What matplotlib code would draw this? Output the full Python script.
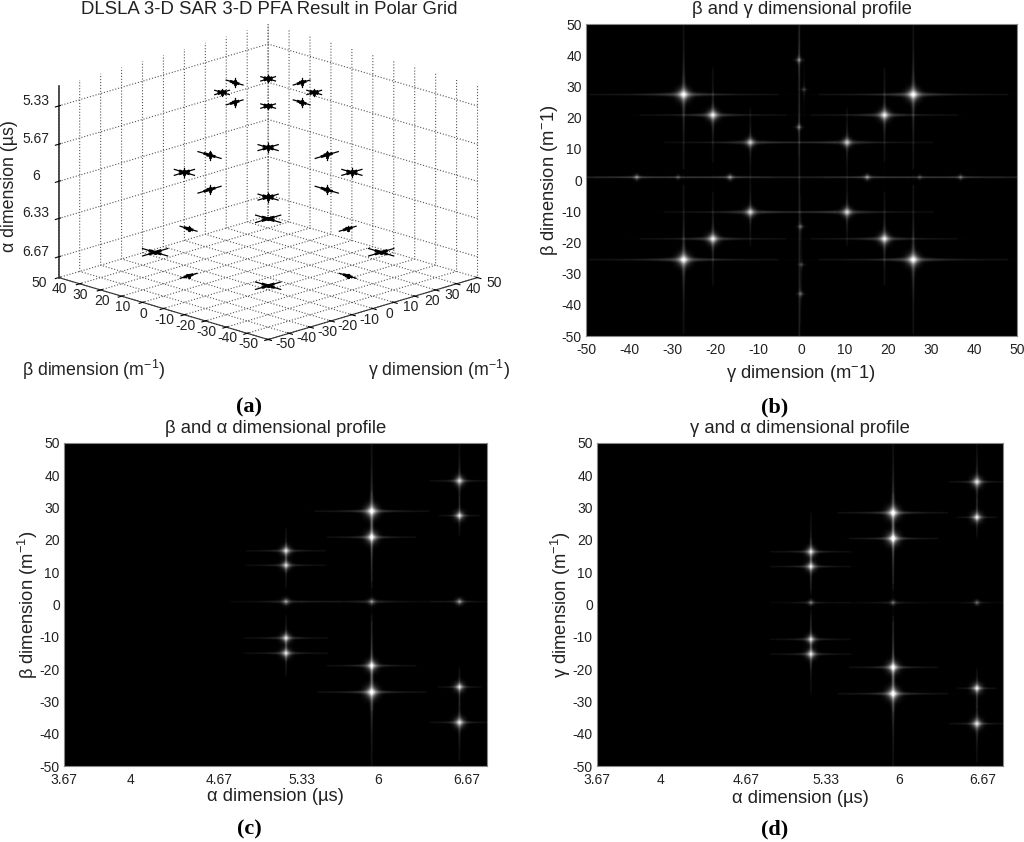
#!/usr/bin/env python3
"""Recreate the four-panel DLSLA 3-D SAR PFA result figure."""

import matplotlib
import numpy as np

matplotlib.use("Agg")
from matplotlib import pyplot as plt
from mpl_toolkits.mplot3d import proj3d

WIDTH, HEIGHT = 1024, 842

TITLE_A = "DLSLA 3-D SAR 3-D PFA Result in Polar Grid"
TITLE_B = "β and γ dimensional profile"
TITLE_C = "β and α dimensional profile"
TITLE_D = "γ and α dimensional profile"

XY_TICKS = [-50, -40, -30, -20, -10, 0, 10, 20, 30, 40, 50]
ALPHA_TICKS = [5.33, 5.67, 6.0, 6.33, 6.67]
ALPHA_LABELS = ["5.33", "5.67", "6", "6.33", "6.67"]
PROFILE_ALPHA_LABELS = ["3.67", "4", "4.67", "5.33", "6", "6.67"]
# the source labels its range axis unevenly, so this axis runs in percent of the width
PROFILE_ALPHA_TICKS = [0.0, 15.7, 36.7, 56.3, 74.3, 95.1]

# 3-D targets, eight per layer
STAR_ALPHA = [5.21] * 8 + [5.92] * 8 + [6.63] * 8
STAR_BETA = [11, 11, -11, -11, 16, -16, 0, 0,
             20, 20, -20, -20, 28, -28, 0, 0,
             27, 27, -27, -27, 38, -38, 0, 0]
STAR_GAMMA = [11, -11, 11, -11, 0, 0, 16, -16,
              20, -20, 20, -20, 0, 0, 28, -28,
              27, -27, 27, -27, 0, 0, 38, -38]
ARM_BETA = [3.5, 3.5, 3.5, 3.5, 4.0, 4.0, 1.0, 1.0,
            4.8, 4.8, 4.8, 4.8, 5.5, 5.5, 1.2, 1.2,
            6.0, 6.0, 6.0, 6.0, 4.0, 4.0, 1.0, 1.0]
ARM_GAMMA = [3.5, 3.5, 3.5, 3.5, 1.0, 1.0, 4.0, 4.0,
             4.8, 4.8, 4.8, 4.8, 1.2, 1.2, 5.5, 5.5,
             6.0, 6.0, 6.0, 6.0, 1.0, 1.0, 4.0, 4.0]
ARM_ALPHA = [0.03, 0.03, 0.03, 0.03, 0.04, 0.04, 0.04, 0.04,
             0.04, 0.04, 0.04, 0.04, 0.04, 0.04, 0.04, 0.04,
             0.01, 0.01, 0.01, 0.01, 0.02, 0.02, 0.02, 0.02]

# panel (b): gamma, beta, brightness, horizontal and vertical streak reach
B_GAMMA = [-27.4, -20.6, -11.9, 10.6, 19.3, 26.0,
           -0.6, 0.6, -0.6, -38.3, -28.7, -16.6, 15.3, 27.5, 37.0,
           -11.9, 10.6, -20.6, 19.3, -27.4, 26.0, -0.2, 0.0, -0.2]
B_BETA = [27.5, 20.9, 12.1, 12.1, 20.9, 27.5,
          38.6, 29.1, 17.0, 0.9, 0.9, 0.9, 0.9, 0.9, 0.9,
          -10.3, -10.3, -18.9, -18.9, -25.6, -25.6, -15.0, -27.2, -36.6]
B_AMP = [1.0, 0.9, 0.75, 0.75, 0.9, 1.0,
         0.45, 0.25, 0.4, 0.45, 0.25, 0.5, 0.5, 0.25, 0.35,
         0.8, 0.8, 0.9, 0.9, 1.0, 1.0, 0.35, 0.25, 0.35]
B_HLEN = [22, 17, 20, 20, 17, 22,
          1.5, 1.5, 1.5, 10, 10, 10, 10, 10, 10,
          20, 20, 17, 17, 22, 22, 1.5, 1.5, 1.5]
B_VLEN = [24, 15, 11, 11, 15, 24,
          10, 10, 10, 1.5, 1.5, 1.5, 1.5, 1.5, 1.5,
          11, 11, 15, 15, 24, 24, 10, 10, 10]

# panel (c): column position in percent of the width, beta, brightness, reach
C_COLUMN = [52.5] * 5 + [72.8] * 5 + [93.6] * 5
C_BETA = [16.7, 12.2, 0.9, -10.4, -15.1,
          29.0, 20.9, 0.9, -19.0, -27.2,
          38.4, 27.6, 0.9, -25.6, -36.6]
C_AMP = [0.8, 0.75, 0.6, 0.8, 0.8,
         1.0, 0.95, 0.55, 0.9, 1.0,
         0.8, 0.8, 0.6, 0.8, 0.85]
C_HLEN = [9.5, 9.5, 13, 10, 10,
          13.5, 10.5, 17, 10.5, 13,
          7.0, 4.8, 7, 5.0, 7.0]
C_VLEN = [7, 7, 1, 7, 7,
          24, 14, 1, 14, 24,
          12, 6, 1, 6, 12]

# panel (d)
D_COLUMN = [52.7] * 5 + [73.0] * 5 + [93.7] * 5
D_GAMMA = [16.4, 11.8, 0.6, -10.8, -15.4,
           28.5, 20.5, 0.6, -19.5, -27.7,
           38.1, 27.1, 0.6, -26.0, -37.0]
D_AMP = [0.8, 0.8, 0.45, 0.75, 0.8,
         1.0, 1.0, 0.4, 0.95, 1.0,
         0.85, 0.85, 0.4, 0.85, 0.85]
D_HLEN = [10, 10, 10, 10, 10,
          13.5, 11, 14, 11, 13.5,
          7, 5, 7, 5, 7]
D_VLEN = [12, 9, 1, 9, 12,
          24, 14, 1, 14, 24,
          12, 6, 1, 6, 12]


def _pixel_axes(figure, left, top, right, bottom, **kwargs):
    return figure.add_axes(
        [left / WIDTH, 1 - bottom / HEIGHT, (right - left) / WIDTH, (bottom - top) / HEIGHT],
        **kwargs,
    )


def _label(figure, x, y, text, **kwargs):
    figure.text(x / WIDTH, 1 - y / HEIGHT, text, ha="center", va="center", **kwargs)


def _spots(shape, xlim, ylim, xs, ys, amps, hlens, vlens, line_x=None, line_y=None):
    rows, cols = shape
    px = cols / (xlim[1] - xlim[0])
    py = rows / (ylim[1] - ylim[0])
    xx, yy = np.meshgrid(np.linspace(xlim[0], xlim[1], cols), np.linspace(ylim[0], ylim[1], rows))
    image = np.zeros(shape)
    for x, y, amp, hlen, vlen in zip(xs, ys, amps, hlens, vlens):
        du = (xx - x) * px
        dv = (yy - y) * py
        h_px = hlen * px
        v_px = vlen * py
        # soft glow with a fading streak each way, streaks narrow away from the centre
        image += 0.45 * amp * np.exp(-(du**2 + dv**2) / (2.2 + 4.2 * amp**2) ** 2)
        h_width = 0.9 + 2.2 * amp * np.exp(-np.abs(du) / (h_px * 0.2))
        v_width = 0.9 + 2.2 * amp * np.exp(-np.abs(dv) / (v_px * 0.2))
        image += 0.27 * amp * np.exp(-np.abs(du) / (h_px * 0.35)) * np.exp(-((dv / h_width) ** 2))
        image += 0.27 * amp * np.exp(-np.abs(dv) / (v_px * 0.35)) * np.exp(-((du / v_width) ** 2))
        image += 0.05 * amp * (np.abs(du) < h_px) * np.exp(-(dv**2))
        image += 0.05 * amp * (np.abs(dv) < v_px) * np.exp(-(du**2))
    if line_x is not None:
        image += 0.12 * np.exp(-(((xx - line_x) * px) ** 2))
    if line_y is not None:
        image += 0.13 * np.exp(-(((yy - line_y) * py) ** 2))
    return np.clip(image, 0, 1)


def _profile(axis, image, xlim, title, xlabel, ylabel, xpad, ypad):
    axis.imshow(
        image,
        cmap="gray",
        vmin=0,
        vmax=1,
        origin="lower",
        aspect="auto",
        interpolation="bilinear",
        extent=(xlim[0], xlim[1], -50, 50),
    )
    axis.set_yticks(XY_TICKS)
    axis.tick_params(length=0, labelsize=10, pad=3, colors="#222222")
    axis.tick_params(axis="x", pad=5)
    for spine in axis.spines.values():
        spine.set_color("#888888")
        spine.set_linewidth(0.8)
    axis.set_title(title, fontsize=13.3, color="#222222", pad=7)
    axis.set_xlabel(xlabel, fontsize=13.2, color="#222222", labelpad=xpad)
    axis.set_ylabel(ylabel, fontsize=13.2, color="#222222", labelpad=ypad)


def _tick_label(axis, gamma, beta, alpha, text, dx, dy):
    # mplot3d only offsets labels along the tick, so place them by projected tick position
    x, y, _ = proj3d.proj_transform(gamma, beta, alpha, axis.get_proj())
    axis.annotate(
        text,
        xy=(x, y),
        xytext=(dx, dy),
        textcoords="offset pixels",
        ha="center",
        va="center",
        fontsize=10,
        color="#222222",
        annotation_clip=False,
    )


def _panel_a(figure):
    plt.rcParams["grid.linestyle"] = ":"
    plt.rcParams["grid.linewidth"] = 0.8
    plt.rcParams["grid.color"] = "#555555"
    axis = _pixel_axes(figure, -2, -3, 528, 377, projection="3d", proj_type="ortho")
    axis.patch.set_alpha(0)
    axis.view_init(elev=17.2, azim=-135)
    axis.set_box_aspect((297, 297, 201), zoom=1.186)
    axis.set_xlim(-50, 50)
    axis.set_ylim(-50, 50)
    axis.set_zlim(6.855, 5.154)
    axis.set_xticks(XY_TICKS, [""] * len(XY_TICKS))
    axis.set_yticks(XY_TICKS, [""] * len(XY_TICKS))
    axis.set_zticks(ALPHA_TICKS, [""] * len(ALPHA_TICKS))
    axis.zaxis.set_ticks_position("upper")
    for part in (axis.xaxis, axis.yaxis, axis.zaxis):
        part.pane.set_visible(False)
        part.line.set_color("#333333")
    axis.zaxis.line.set_linewidth(1.2)
    for value in XY_TICKS:
        _tick_label(axis, value, -50, 6.855, str(value), 17, -5)
        _tick_label(axis, -50, value, 6.855, str(value), -20, -5)
    for value, text in zip(ALPHA_TICKS, ALPHA_LABELS):
        _tick_label(axis, -50, 50, value, text, -23, 5)
    for alpha, beta, gamma, arm_b, arm_g, arm_a in zip(
        STAR_ALPHA, STAR_BETA, STAR_GAMMA, ARM_BETA, ARM_GAMMA, ARM_ALPHA
    ):
        for scale, width in ((1.0, 0.9), (0.4, 2.0)):
            axis.plot([gamma - arm_g * scale, gamma + arm_g * scale], [beta, beta], [alpha, alpha], color="black", lw=width)
            axis.plot([gamma, gamma], [beta - arm_b * scale, beta + arm_b * scale], [alpha, alpha], color="black", lw=width)
            axis.plot([gamma, gamma], [beta, beta], [alpha - arm_a * scale, alpha + arm_a * scale], color="black", lw=width)
    return axis


def main():
    plt.rcParams["font.family"] = ["Liberation Sans", "DejaVu Sans"]
    plt.rcParams["mathtext.fontset"] = "custom"
    plt.rcParams["mathtext.rm"] = "Liberation Sans"
    plt.rcParams["mathtext.default"] = "regular"
    plt.rcParams["axes.unicode_minus"] = False
    figure = plt.figure(figsize=(WIDTH / 100, HEIGHT / 100), dpi=100, facecolor="white")

    _panel_a(figure)
    _label(figure, 269, 9, TITLE_A, fontsize=13.4, color="#222222")
    _label(figure, 94, 370, "β dimension (m$^{-1}$)", fontsize=12.8, color="#222222")
    _label(figure, 439, 370, "γ dimension (m$^{-1}$)", fontsize=12.8, color="#222222")
    _label(figure, 10, 186, "α dimension (µs)", fontsize=12.8, color="#222222", rotation=90)

    axis_b = _pixel_axes(figure, 586, 24, 1017, 336)
    image_b = _spots((312, 431), (-50, 50), (-50, 50), B_GAMMA, B_BETA, B_AMP, B_HLEN, B_VLEN, line_x=-0.5, line_y=0.9)
    _profile(axis_b, image_b, (-50, 50), TITLE_B, "γ dimension (m$^{-}$1)", "β dimension (m$^{-}$1)", 4, 1)
    axis_b.set_xticks(XY_TICKS)

    axis_c = _pixel_axes(figure, 64, 443, 487, 766)
    image_c = _spots((323, 423), (0, 100), (-50, 50), C_COLUMN, C_BETA, C_AMP, C_HLEN, C_VLEN)
    _profile(axis_c, image_c, (0, 100), TITLE_C, "α dimension (µs)", "β dimension (m$^{-1}$)", 1, 0)
    axis_c.set_xticks(PROFILE_ALPHA_TICKS, PROFILE_ALPHA_LABELS)

    axis_d = _pixel_axes(figure, 597, 443, 1003, 766)
    image_d = _spots((323, 406), (0, 100), (-50, 50), D_COLUMN, D_GAMMA, D_AMP, D_HLEN, D_VLEN)
    _profile(axis_d, image_d, (0, 100), TITLE_D, "α dimension (µs)", "γ dimension (m$^{-1}$)", 2, 0)
    axis_d.set_xticks(PROFILE_ALPHA_TICKS, PROFILE_ALPHA_LABELS)

    caption = {"family": "Liberation Serif", "fontweight": "bold", "fontsize": 16, "color": "black"}
    _label(figure, 249, 407, "(a)", **caption)
    _label(figure, 775, 407, "(b)", **caption)
    _label(figure, 249, 829, "(c)", **caption)
    _label(figure, 775, 829, "(d)", **caption)

    figure.savefig("out.png", dpi=100, facecolor="white")
    plt.close(figure)


if __name__ == "__main__":
    main()
